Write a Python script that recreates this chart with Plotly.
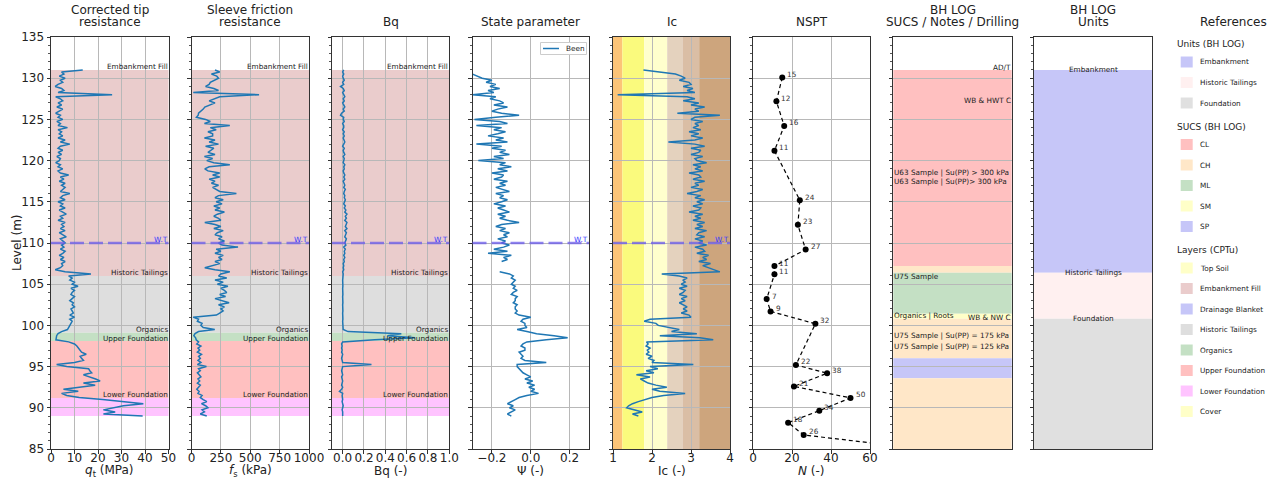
import plotly.graph_objects as go

W, H = 1276, 478
FONT = "DejaVu Sans"
C0 = "#1f77b4"

# ---------------- data ----------------
level = [round(131.0 - 0.25 * i, 2) for i in range(169)]  # CPTu sampling levels (m)

qt = [13.5, 4.5, 5.5, 3.5,  6.0, 4.0, 5.0, 3.0,  1.8, 4.5, 5.5, 3.0,  26.0, 2.0, 4.0, 5.0,
      3.0, 4.5, 2.5, 5.0,  3.5, 2.0, 4.0, 3.0,  5.0, 2.5, 4.0, 3.0,  7.0, 3.0, 4.5, 3.5,
      5.0, 3.0, 6.0, 4.0,  8.0, 4.0, 3.0, 5.0,  3.0, 4.5, 2.5, 4.0,  3.5, 2.0, 4.0, 3.0,
      5.0, 3.0, 4.0, 7.5,  4.0, 5.5, 3.5, 6.0,  4.5, 6.0, 5.0, 4.0,  8.0, 5.0, 4.0, 6.0,
      3.0, 5.0, 4.0, 6.0,  3.5, 5.0, 6.5, 4.0,  5.0, 3.0, 6.0, 4.5,  5.5, 4.0, 6.0, 3.5,
      5.0, 6.5, 4.0, 5.0,  6.0, 4.5, 5.5, 4.0,  6.0, 5.0, 3.5, 5.5,  4.0, 6.0, 4.5, 5.0,
      4.0, 1.8, 6.0, 17.0,  7.5, 9.0, 8.0, 10.0,  9.0, 11.5, 8.5, 10.0,  9.0, 8.5, 10.0, 9.0,
      8.0, 9.5, 9.0, 10.0,  8.5, 9.0, 9.5, 8.0,  10.0, 8.0, 9.0, 8.5,  8.0, 7.5, 7.0, 4.5,
      3.0, 2.4, 2.2, 2.1,  7.5, 10.0, 11.0, 11.6,  12.5, 13.0, 15.0, 12.4,  13.0, 13.8, 10.0, 2.4,
      6.7, 16.0, 16.5, 17.3,  13.8, 16.6, 19.0, 20.9,  13.8, 18.8, 12.0, 5.3,  11.6, 4.5, 6.7, 12.0,
      22.0, 32.0, 39.3, 30.8,  26.6, 22.3, 27.3, 22.3,  39.0]

fs = [200, 240, 170, 215,  230, 200, 160, 150,  120, 190, 230, 15,  575, 240, 200, 150,
      200, 150, 113, 100,  80, 60, 57, 42,  120, 160, 110, 326,  160, 210, 140, 180,
      180, 110, 200, 150,  230, 120, 190, 160,  140, 200, 110, 180,  130, 190, 326, 150,
      113, 140, 240, 180,  240, 150, 200, 170,  230, 180, 210, 240,  382, 230, 200, 270,
      210, 260, 190, 240,  200, 280, 220, 190,  230, 250, 113, 200,  250, 190, 270, 220,
      200, 260, 230, 280,  230, 260, 396, 210,  250, 200, 270, 230,  260, 200, 240, 180,
      113, 200, 326, 250,  230, 300, 200, 270,  220, 310, 250, 280,  300, 240, 290, 200,
      260, 320, 230, 280,  250, 269, 240, 212,  14, 60, 50, 90,  80, 100, 198, 60,
      30, 20, 35, 40,  60, 45, 80, 55,  70, 50, 85, 60,  75, 55, 80, 50,
      127, 60, 75, 50,  65, 80, 55, 70,  50, 75, 60, 45,  65, 55, 90, 75,
      100, 130, 85, 120,  140, 90, 110, 75,  130]

bq = [0.01, 0.0, 0.01, 0.0,  0.005, 0.015, 0.0, 0.01,  -0.02, 0.005, 0.015, 0.0,  0.01, 0.02, 0.005, 0.015,
      0.0, 0.01, 0.02, 0.005,  0.015, -0.01, -0.02, 0.01,  0.005, 0.015, 0.0, 0.01,  0.01, 0.0, 0.015, 0.005,
      0.015, 0.005, 0.01, 0.02,  0.01, 0.0, 0.015, 0.005,  0.01, 0.02, 0.005, 0.015,  0.01, 0.005, 0.02, 0.01,
      0.015, 0.005, 0.01, 0.02,  0.01, 0.02, 0.005, 0.015,  0.02, 0.01, 0.025, 0.015,  0.01, 0.02, 0.015, 0.025,
      0.02, 0.01, 0.025, 0.015,  0.03, 0.02, 0.04, 0.025,  0.035, 0.02, 0.04, 0.03,  0.025, 0.04, 0.02, 0.035,
      0.03, 0.02, 0.035, 0.025,  0.02, 0.03, 0.01, 0.025,  0.015, 0.02, 0.01, 0.02,  0.01, 0.015, 0.005, 0.01,
      0.005, 0.01, 0.0, 0.005,  0.0, 0.002, 0.0, 0.002,  0.0, 0.002, 0.0, 0.002,  0.0, 0.002, 0.0, 0.002,
      0.0, 0.002, 0.0, 0.002,  0.0, 0.002, 0.0, 0.002,  0.0, 0.002, 0.0, 0.002,  0.0, 0.0, 0.005, 0.05,
      0.55, 0.42, 0.68, 0.3,  0.0, -0.01, -0.005, -0.01,  -0.005, -0.01, 0.0, -0.005,  -0.01, -0.005, 0.0, 0.27,
      0.0, -0.005, -0.01, -0.005,  0.0, -0.01, -0.005, 0.0,  -0.005, -0.01, 0.0, -0.01,  -0.03, 0.0, -0.005, 0.0,
      0.0, -0.005, 0.0, 0.005,  0.0, -0.005, 0.0, 0.0,  0.0]

psi = [None, None, -0.30, -0.27,  -0.25, -0.20, -0.23, -0.18,  -0.21, -0.16, -0.22, -0.19,  -0.30, -0.18, -0.21, -0.16,
       -0.14, -0.19, -0.12, -0.17,  -0.20, -0.15, -0.06, -0.18,  -0.29, -0.16, -0.12, -0.28,  -0.15, -0.19, -0.13, -0.17,
       -0.22, -0.14, -0.18, -0.12,  -0.28, -0.15, -0.20, -0.13,  -0.16, -0.11, -0.19, -0.14,  -0.27, -0.13, -0.16, -0.10,
       -0.17, -0.12, -0.20, -0.14,  -0.15, -0.19, -0.12, -0.16,  -0.13, -0.18, -0.15, -0.11,  -0.18, -0.14, -0.16, -0.12,
       -0.15, -0.19, -0.13, -0.17,  -0.14, -0.11, -0.17, -0.13,  -0.16, -0.12, -0.06, -0.15,  -0.18, -0.13, -0.16, -0.11,
       -0.14, -0.12, -0.17, -0.13,  -0.15, -0.11, -0.14, -0.19,  -0.12, -0.22, -0.10, -0.14,  -0.12, -0.15, None, None,
       None, None, -0.16, -0.11,  -0.09, -0.10, -0.08, -0.09,  -0.10, -0.08, -0.09, -0.07,  -0.09, -0.10, -0.07, -0.08,
       -0.08, -0.09, -0.07, -0.08,  -0.08, -0.07, -0.08, -0.06,  0.0, -0.04, -0.05, -0.03,  -0.03, -0.02, -0.07, -0.02,
       0.03, 0.12, 0.19, 0.08,  -0.02, -0.04, -0.05, -0.03,  -0.03, -0.06, -0.05, -0.04,  -0.05, -0.03, 0.08, -0.07,
       -0.07, -0.06, -0.05, -0.04,  -0.02, 0.0, -0.03, 0.01,  -0.02, 0.02, -0.01, 0.02,  0.0, 0.04, -0.02, -0.06,
       -0.08, -0.10, -0.12, -0.09,  -0.11, -0.08, -0.10, -0.12,  -0.10]

ic = [1.78, 2.2, 2.6, 2.75,  2.85, 2.7, 2.95, 3.0,  2.8, 3.05, 2.9, 3.1,  1.12, 2.9, 3.1, 2.8,
      3.2, 3.0, 3.35, 3.1,  3.2, 2.65, 3.74, 3.1,  3.0, 3.3, 3.1, 3.2,  3.05, 3.25, 2.95, 3.2,
      3.0, 3.3, 3.1, 2.42,  3.1, 3.35, 3.0, 3.25,  3.2, 3.0, 3.3, 3.1,  3.15, 3.4, 3.05, 3.25,
      3.1, 3.3, 2.95, 3.2,  3.25, 3.05, 3.35, 3.1,  3.2, 3.0, 3.3, 3.15,  2.9, 3.25, 3.1, 3.35,
      3.15, 3.3, 3.05, 3.25,  3.2, 2.95, 3.3, 3.1,  3.25, 3.05, 3.35, 3.15,  3.3, 3.1, 3.4, 3.2,
      3.15, 3.35, 3.1, 3.3,  3.2, 3.4, 3.1, 3.3,  3.35, 3.15, 3.45, 3.3,  3.4, 3.2, 3.5, 3.3,
      3.45, 3.6, 3.74, 2.25,  2.7, 2.9, 2.8, 2.85,  2.75, 2.9, 2.7, 2.85,  2.8, 2.7, 2.9, 2.75,
      2.85, 2.7, 2.8, 2.9,  2.8, 2.9, 2.75, 2.95,  3.0, 1.95, 1.8, 2.1,  2.16, 2.4, 2.7, 2.5,
      3.15, 2.2, 3.23, 3.57,  1.86, 1.9, 1.85, 1.95,  1.88, 1.92, 1.85, 2.0,  1.9, 2.05, 2.0, 3.06,
      1.95, 2.15, 1.85, 2.05,  1.6, 1.95, 1.7, 1.8,  1.9, 2.1, 2.38, 2.0,  2.2, 2.85, 2.3, 2.0,
      1.8, 1.65, 1.5, 1.4,  1.35, 1.55, 1.75, 1.5,  1.65]

nspt_n = [15, 12, 16, 11, 24, 23, 27, 11, 11, 7, 9, 32, 22, 38, 21, 50, 34, 18, 26, 80]
nspt_level = [130.1, 127.2, 124.2, 121.2, 115.2, 112.2, 109.2, 107.2, 106.2, 103.2, 101.7,
              100.2, 95.2, 94.2, 92.6, 91.2, 89.65, 88.2, 86.7, 85.2]

wt_level = 110.0

cptu_layers = ["Embankment Fill", "Historic Tailings", "Organics", "Upper Foundation", "Lower Foundation"]
cptu_top = [131.0, 106.0, 99.1, 98.1, 91.2]
cptu_bot = [106.0, 99.1, 98.1, 91.2, 89.0]

sucs_code = ["CL", "CH", "ML", "SM", "CH", "SP", "CH"]
sucs_top = [131.0, 107.2, 106.4, 101.4, 100.8, 96.0, 93.6]
sucs_bot = [107.2, 106.4, 101.4, 100.8, 96.0, 93.6, 85.0]

note_text = ["AD/T", "WB & HWT C", "U63 Sample | Su(PP) > 300 kPa", "U63 Sample | Su(PP)> 300 kPa",
             "U75 Sample", "Organics | Roots", "WB & NW C",
             "U75 Sample | Su(PP) = 175 kPa", "U75 Sample | Su(PP) = 125 kPa"]
note_level = [131.3, 127.3, 118.5, 117.5, 105.9, 101.2, 100.9, 98.8, 97.5]
note_side = ["right", "right", "left", "left", "left", "left", "right", "left", "left"]

unit_name = ["Embankment", "Historic Tailings", "Foundation"]
unit_top = [131.0, 106.4, 100.8]
unit_bot = [106.4, 100.8, 85.0]

ic_bounds = [1.0, 1.24, 1.8, 2.39, 2.78, 3.21, 4.0]
ic_colors = ["#fcc478", "#fafa7d", "#ffffcd", "#e4d2be", "#dabea5", "#cda57d"]

unit_colors = {"Embankment": "#c6c6f8", "Historic Tailings": "#fff0f0", "Foundation": "#e0e0e0"}
sucs_colors = {"CL": "#ffc0c0", "CH": "#ffe7c8", "ML": "#c4e0c4", "SM": "#ffffc8", "SP": "#c6c6f8"}
layer_colors = {"Top Soil": "#ffffc8", "Embankment Fill": "#eacccc", "Drainage Blanket": "#c6c6f8",
                "Historic Tailings": "#dedede", "Organics": "#c4e0c4", "Upper Foundation": "#ffc0c0",
                "Lower Foundation": "#ffc4ff", "Cover": "#ffffc8"}

titles = [("Corrected tip", "resistance"), ("Sleeve friction", "resistance"), ("", "Bq"),
          ("", "State parameter"), ("", "Ic"), ("", "NSPT"),
          ("BH LOG", "SUCS / Notes / Drilling"), ("BH LOG", "Units")]
xtitles = ["<i>q</i><sub>t</sub> (MPa)", "<i>f</i><sub>s</sub> (kPa)", "Bq (-)", "Ψ (-)",
           "Ic (-)", "<i>N</i> (-)", "", ""]
xranges = [[0, 50], [0, 1000], [-0.1, 1.0], [-0.3, 0.3], [1, 4], [0, 60], [0, 1], [0, 1]]
xtickvals = [[0, 10, 20, 30, 40, 50], [0, 250, 500, 750, 1000], [0, 0.2, 0.4, 0.6, 0.8, 1.0],
             [-0.2, 0, 0.2], [1, 2, 3, 4], [0, 20, 40, 60], [], []]
xticktext = [["0", "10", "20", "30", "40", "50"], ["0", "250", "500", "750", "1000"],
             ["0.0", "0.2", "0.4", "0.6", "0.8", "1.0"], ["\u22120.2", "0.0", "0.2"],
             ["1", "2", "3", "4"], ["0", "20", "40", "60"], [], []]
psi_legend_name = "Been"

# ---------------- layout helpers ----------------
panel_px = [(51, 168.5), (191.5, 309), (332, 449.3), (472.5, 589), (613, 730),
            (753, 870), (893.3, 1011.7), (1034, 1152)]
TOP_PX, BOT_PX = 37, 449


def fx(px):
    return px / W


def fy(py):
    return 1 - py / H


def xn(i):
    return "x" if i == 0 else f"x{i + 1}"


def yn(i):
    return "y" if i == 0 else f"y{i + 1}"


fig = go.Figure()
layout = dict(width=W, height=H, margin=dict(l=0, r=0, t=0, b=0, autoexpand=False),
              paper_bgcolor="white", plot_bgcolor="white", showlegend=False,
              font=dict(family=FONT, size=12, color="#222"))
shapes, annots = [], []

GRID = "#b8b8b8"
for i, (l, r) in enumerate(panel_px):
    xk = "xaxis" if i == 0 else f"xaxis{i + 1}"
    yk = "yaxis" if i == 0 else f"yaxis{i + 1}"
    log_panel = i >= 6
    layout[xk] = dict(domain=[fx(l), fx(r)], anchor=yn(i), range=xranges[i], automargin=False,
                      tickmode="array", tickvals=xtickvals[i], ticktext=xticktext[i], tickangle=0,
                      ticklabelstandoff=-6,
                      showgrid=not log_panel, gridcolor=GRID, gridwidth=1, zeroline=False,
                      showline=True, linecolor="#333", linewidth=1, mirror=True,
                      ticks="" if log_panel else "outside", ticklen=3.5, tickcolor="#333",
                      showticklabels=not log_panel, tickfont=dict(size=12, color="#222"))
    layout[yk] = dict(domain=[fy(BOT_PX), fy(TOP_PX)], anchor=xn(i), range=[85, 135], automargin=False,
                      tickmode="linear", tick0=85, dtick=5,
                      showgrid=(i != 7), gridcolor=GRID, gridwidth=1, zeroline=False,
                      showline=True, linecolor="#333", linewidth=1, mirror=True,
                      ticks="outside", ticklen=3.5, tickcolor="#333",
                      minor=dict(dtick=1, tick0=85, ticks="outside", ticklen=2, tickcolor="#555", showgrid=False),
                      showticklabels=(i == 0), tickfont=dict(size=12, color="#222"))
    # titles
    t1, t2 = titles[i]
    if t1:
        annots.append(dict(xref=f"{xn(i)} domain", yref="paper", x=0.5, y=fy(10), text=t1,
                           showarrow=False, xanchor="center", yanchor="middle", font=dict(size=12)))
    annots.append(dict(xref=f"{xn(i)} domain", yref="paper", x=0.5, y=fy(22.5), text=t2,
                       showarrow=False, xanchor="center", yanchor="middle", font=dict(size=12)))
    if xtitles[i]:
        annots.append(dict(xref=f"{xn(i)} domain", yref="paper", x=0.5, y=fy(471), text=xtitles[i],
                           showarrow=False, xanchor="center", yanchor="middle", font=dict(size=12)))

annots.append(dict(xref="paper", yref="paper", x=fx(17), y=fy(243), text="Level (m)", textangle=-90,
                   showarrow=False, xanchor="center", yanchor="middle", font=dict(size=12)))

# CPTu layers on the first three panels
for p in (0, 1, 2):
    for name, top, bot in zip(cptu_layers, cptu_top, cptu_bot):
        shapes.append(dict(type="rect", xref=f"{xn(p)} domain", yref=yn(p), x0=0, x1=1, y0=bot, y1=top,
                           fillcolor=layer_colors[name], line=dict(width=0), layer="below"))
        annots.append(dict(xref=f"{xn(p)} domain", yref=yn(p), x=1, y=top, text=name, showarrow=False,
                           xanchor="right", yanchor="middle", yshift=3, xshift=1,
                           font=dict(size=7.3, color="#222")))

# Ic zones
for k, col in enumerate(ic_colors):
    shapes.append(dict(type="rect", xref="x5", yref="y5 domain", x0=ic_bounds[k], x1=ic_bounds[k + 1],
                       y0=0, y1=1, fillcolor=col, line=dict(width=0), layer="below"))

# Water table
for p in range(5):
    shapes.append(dict(type="line", xref=f"{xn(p)} domain", yref=yn(p), x0=0, x1=1, y0=wt_level, y1=wt_level,
                       line=dict(color="rgba(105,90,235,0.75)", width=2.5, dash="14px,5px"), layer="above"))
    annots.append(dict(xref=f"{xn(p)} domain", yref=yn(p), x=1, y=wt_level, text="W.T", showarrow=False,
                       xanchor="right", yanchor="middle", yshift=3, xshift=1,
                       font=dict(size=7.3, color="#3a3aff")))

# SUCS panel
for code, top, bot in zip(sucs_code, sucs_top, sucs_bot):
    shapes.append(dict(type="rect", xref="x7 domain", yref="y7", x0=0, x1=1, y0=bot, y1=top,
                       fillcolor=sucs_colors[code], line=dict(width=0), layer="below"))
for txt, lv, side in zip(note_text, note_level, note_side):
    annots.append(dict(xref="x7 domain", yref="y7", x=0 if side == "left" else 1, y=lv, text=txt,
                       showarrow=False, xanchor=side, yanchor="middle", xshift=-1 if side == "left" else 1,
                       font=dict(size=7.3, color="#222")))

# Units panel
for name, top, bot in zip(unit_name, unit_top, unit_bot):
    shapes.append(dict(type="rect", xref="x8 domain", yref="y8", x0=0, x1=1, y0=bot, y1=top,
                       fillcolor=unit_colors[name], line=dict(width=0), layer="below"))
    annots.append(dict(xref="x8 domain", yref="y8", x=0.5, y=top, text=name, showarrow=False,
                       xanchor="center", yanchor="middle", font=dict(size=7.3, color="#222")))

# ---------------- traces ----------------
series = [qt, fs, bq, psi, ic]
for p, vals in enumerate(series):
    fig.add_trace(go.Scatter(x=vals, y=level, mode="lines", xaxis=xn(p), yaxis=yn(p),
                             line=dict(color=C0, width=1.5), connectgaps=False,
                             name=psi_legend_name if p == 3 else ""))

fig.add_trace(go.Scatter(x=nspt_n, y=nspt_level, mode="lines+markers", xaxis="x6", yaxis="y6",
                         line=dict(color="black", width=1.2, dash="4px,3px"),
                         marker=dict(color="black", size=6), name="NSPT"))
for n, lv in zip(nspt_n, nspt_level):
    if xranges[5][0] <= n <= xranges[5][1]:
        annots.append(dict(xref="x6", yref="y6", x=n, y=lv, text=str(n), showarrow=False,
                           xanchor="left", yanchor="middle", xshift=3, yshift=3,
                           font=dict(size=7.3, color="#333")))

# psi legend box (drawn like matplotlib's small legend)
shapes.append(dict(type="rect", xref="paper", yref="paper", x0=fx(540.5), x1=fx(586.5), y0=fy(54.5), y1=fy(42.5),
                   fillcolor="white", line=dict(color="#cccccc", width=1), layer="above"))
shapes.append(dict(type="line", xref="paper", yref="paper", x0=fx(543), x1=fx(559), y0=fy(48.5), y1=fy(48.5),
                   line=dict(color=C0, width=1.5), layer="above"))
annots.append(dict(xref="paper", yref="paper", x=fx(563.5), y=fy(48.5), text=psi_legend_name, showarrow=False,
                   xanchor="left", yanchor="middle", font=dict(size=7.3, color="#222")))

# ---------------- references legend ----------------
annots.append(dict(xref="paper", yref="paper", x=fx(1233), y=fy(22.3), text="References", showarrow=False,
                   xanchor="center", yanchor="middle", font=dict(size=12)))
groups = [("Units (BH LOG)", unit_name, unit_colors),
          ("SUCS (BH LOG)", ["CL", "CH", "ML", "SM", "SP"], sucs_colors),
          ("Layers (CPTu)", ["Top Soil", "Embankment Fill", "Drainage Blanket", "Historic Tailings",
                             "Organics", "Upper Foundation", "Lower Foundation", "Cover"], layer_colors)]
ycur = 44.0
for header, names, cmap in groups:
    annots.append(dict(xref="paper", yref="paper", x=fx(1175), y=fy(ycur), text=header, showarrow=False,
                       xanchor="left", yanchor="middle", font=dict(size=9, color="#222")))
    ycur += 18.0
    for nm in names:
        shapes.append(dict(type="rect", xref="paper", yref="paper", x0=fx(1180.7), x1=fx(1192.7),
                           y0=fy(ycur + 5.5), y1=fy(ycur - 5.5), fillcolor=cmap[nm],
                           line=dict(width=0)))
        annots.append(dict(xref="paper", yref="paper", x=fx(1197.5), y=fy(ycur), text=nm, showarrow=False,
                           xanchor="left", yanchor="middle", font=dict(size=7.3, color="#222")))
        ycur += 20.5
    ycur += 3.0

layout["shapes"] = shapes
layout["annotations"] = annots
fig.update_layout(**layout)
fig.write_html("out.html", config={"displayModeBar": False},
               post_script="document.body.style.margin='0px';")
